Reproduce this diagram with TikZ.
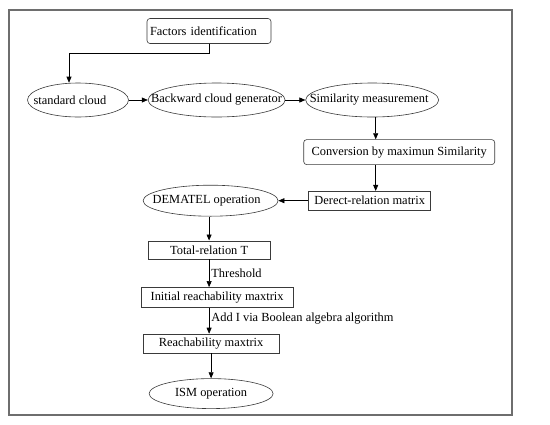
\documentclass[tikz,border=0pt]{standalone}
\usepackage{fontspec}
\setmainfont{Liberation Serif}
\usetikzlibrary{shapes.geometric,arrows.meta,positioning}
\definecolor{frame}{HTML}{6E6E6E}
\definecolor{edge}{HTML}{3A3A3A}
% text that does not widen its ellipse
\newcommand{\ovaltext}[1]{\makebox[0pt]{#1}}

\begin{document}
\begin{tikzpicture}[
  x=1pt,y=-1pt,
  font=\fontsize{12.4}{14}\selectfont,
  box/.style={draw=edge,line width=0.6pt,inner sep=0pt,align=center},
  rbox/.style={box,rounded corners=3pt},
  oval/.style={box,ellipse},
  arrow/.style={-{Triangle[length=6pt,width=5pt]},line width=0.6pt,draw=black}
]
  \useasboundingbox (0,0) rectangle (550,424);
  \draw[frame,line width=1.1pt] (9,10) rectangle (512,415);

  \node[rbox,minimum width=124pt,minimum height=25pt,text width=118pt,align=left] (fac) at (209,31) {Factors identification};

  \node[oval,minimum width=101pt,minimum height=34pt] (std) at (78,100) {\ovaltext{\hspace*{-16pt}standard cloud}};
  \node[oval,minimum width=137pt,minimum height=34pt,right=19pt of std] (bcg) {\ovaltext{Backward cloud generator}};
  \node[oval,minimum width=133pt,minimum height=34pt,right=20pt of bcg] (sim) {\ovaltext{\hspace*{-6pt}Similarity measurement}};

  \node[rbox,minimum width=191pt,minimum height=25pt,below=22pt of sim,xshift=27pt] (conv) {Conversion by maximun Similarity};
  \node[box,minimum width=122pt,minimum height=19pt,below=26pt of conv,xshift=-29.5pt] (drm) {Derect-relation matrix};
  \node[oval,minimum width=135pt,minimum height=31pt,left=30pt of drm] (dem) {\ovaltext{\hspace*{-8pt}DEMATEL operation}};

  \node[box,minimum width=122pt,minimum height=18pt,below=24pt of dem,xshift=-1.5pt] (tot) {Total-relation T};
  \node[box,minimum width=152pt,minimum height=20pt,below=28pt of tot,xshift=8pt] (init) {Initial reachability maxtrix};
  \node[box,minimum width=136pt,minimum height=19pt,below=26pt of init,xshift=-6pt] (rch) {Reachability maxtrix};
  \node[oval,minimum width=124pt,minimum height=30pt,below=25pt of rch] (ism) {\ovaltext{ISM operation}};

  \draw[arrow] (fac.south) -- ++(0,-9pt) -| ([xshift=-9pt]std.north);
  \draw[arrow] (std) -- (bcg);
  \draw[arrow] (bcg) -- (sim);
  \draw[arrow] ([xshift=3.5pt]sim.south) -- ([xshift=3.5pt]sim.south |- conv.north);
  \draw[arrow] ([xshift=3.5pt]sim.south |- conv.south) -- ([xshift=3.5pt]sim.south |- drm.north);
  \draw[arrow] (drm) -- (dem);
  \draw[arrow] ([xshift=-1.5pt]dem.south) -- (tot.north);
  \draw[arrow] (tot.south) -- node[right,inner sep=2pt] {Threshold} (tot.south |- init.north);
  \draw[arrow] (tot.south |- init.south) -- node[right,inner sep=2pt,pos=0.4] {Add I via Boolean algebra algorithm} (tot.south |- rch.north);
  \draw[arrow] (rch) -- (ism);
\end{tikzpicture}
\end{document}
